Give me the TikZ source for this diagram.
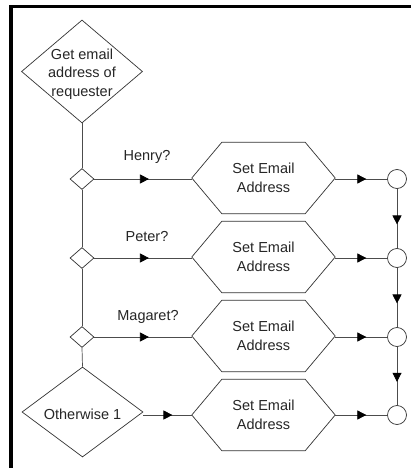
\documentclass[tikz,border=0pt]{standalone}
\usepackage{fontspec}
\setmainfont{Liberation Sans}
\usetikzlibrary{shapes.geometric,arrows.meta,decorations.markings,calc}
\begin{document}
\begin{tikzpicture}[x=1pt,y=-1pt,
  every node/.style={font=\fontsize{14.5}{18.5}\selectfont, text=black!85},
  shapeline/.style={draw=black!80, line width=0.7pt},
  conn/.style={draw=black!70, line width=0.7pt},
  bigdia/.style={diamond, shapeline, fill=white, minimum width=121pt, minimum height=#1, inner sep=0pt},
  smalldia/.style={diamond, shapeline, fill=white, minimum width=24pt, minimum height=21pt, inner sep=0pt},
  hexnode/.style={rectangle, minimum width=143pt, minimum height=71pt, inner sep=0pt, align=center},
  endcirc/.style={circle, shapeline, fill=white, minimum size=19pt, inner sep=0pt},
  midarrow/.style={postaction={decorate}, decoration={markings, mark=at position #1 with {\arrow[black]{Triangle[length=9pt,width=9pt]}}}},
  midarrow/.default=0.55
]
\useasboundingbox (0,0) rectangle (411,468);
\fill[white] (0,0) rectangle (411,468);
% frame
\draw[line width=3.2pt, black] (11,468) -- (11,6.5) -- (411,6.5);

% diamonds
\node[bigdia=103pt] (d0) at (82,71.5) {};
\node[align=center] (t0) at (82,74) {Get email\\address of\\requester};
\node[smalldia] (s1) at (82,179) {};
\node[smalldia] (s2) at (82,258) {};
\node[smalldia] (s3) at (82,337) {};
\node[bigdia=90pt] (d4) at (82.5,412) {};
\node (t4) at (82.5,414) {Otherwise 1};

% hexagons
\node[hexnode] (h1) at (263.5,178) {Set Email\\Address};
\node[hexnode] (h2) at (263.5,257) {Set Email\\Address};
\node[hexnode] (h3) at (263.5,336) {Set Email\\Address};
\node[hexnode] (h4) at (263.5,415) {Set Email\\Address};
\foreach \h in {h1,h2,h3,h4}
  \draw[shapeline] (\h.west) -- ([xshift=30pt]\h.north west) -- ([xshift=-30pt]\h.north east)
    -- (\h.east) -- ([xshift=-30pt]\h.south east) -- ([xshift=30pt]\h.south west) -- cycle;

% circles
\node[endcirc] (c1) at (397,179) {};
\node[endcirc] (c2) at (397,258) {};
\node[endcirc] (c3) at (397,337) {};
\node[endcirc] (c4) at (397,415) {};

% vertical spine
\draw[conn] (d0.south) -- (s1.north);
\draw[conn] (s1.south) -- (s2.north);
\draw[conn] (s2.south) -- (s3.north);
\draw[conn] (s3.south) -- (d4.north);

% branches
\draw[conn, midarrow=0.56] (s1.east) -- (s1.east -| h1.west);
\draw[conn, midarrow=0.56] (s2.east) -- (s2.east -| h2.west);
\draw[conn, midarrow=0.56] (s3.east) -- (s3.east -| h3.west);
\draw[conn, midarrow=0.6] (d4.east |- h4.west) -- (h4.west);

\node (l1) at (147,157) {Henry?};
\node (l2) at (147,237) {Peter?};
\node (l3) at (148,317) {Magaret?};

% hex to circles
\draw[conn, midarrow=0.6] (h1.east |- c1) -- (c1.west);
\draw[conn, midarrow=0.6] (h2.east |- c2) -- (c2.west);
\draw[conn, midarrow=0.6] (h3.east |- c3) -- (c3.west);
\draw[conn, midarrow=0.6] (h4.east |- c4) -- (c4.west);

% circle chain
\draw[conn, midarrow=0.6] (c1.south) -- (c2.north);
\draw[conn, midarrow=0.6] (c2.south) -- (c3.north);
\draw[conn, midarrow=0.6] (c3.south) -- (c4.north);
\end{tikzpicture}
\end{document}
